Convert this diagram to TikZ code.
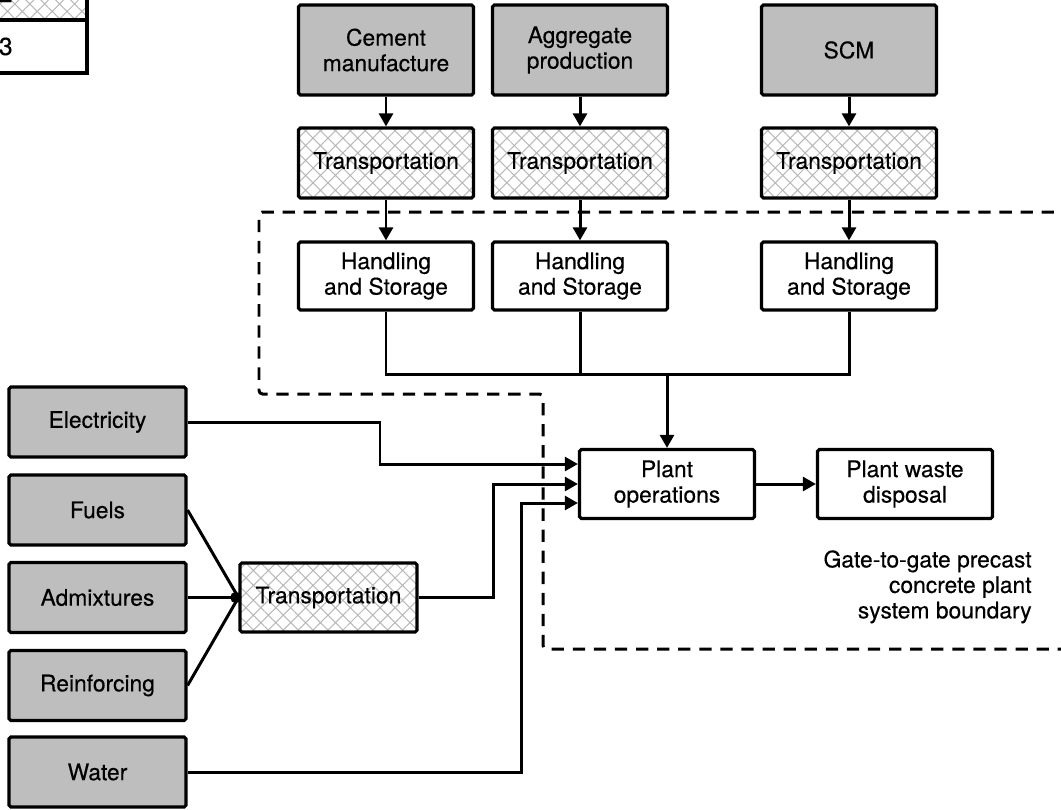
\documentclass[tikz,border=0pt]{standalone}
\usepackage{fontspec}
\setmainfont{TeX Gyre Heros}
\newfontfamily\diagfont{TeX Gyre Heros}[FakeBold=0.3]
\usetikzlibrary{arrows.meta,patterns.meta}
\definecolor{srcgray}{RGB}{190,190,190}
\definecolor{hatchgray}{RGB}{185,185,185}
\tikzset{
  box/.style={draw, line width=1.8pt, rounded corners=1pt, align=center,
    inner sep=2pt, font=\diagfont\fontsize{13}{14.5}\selectfont},
  source/.style={box, fill=srcgray, minimum width=3.5cm, minimum height=1.4cm},
  hatched/.style={pattern={Hatch[angle=45,distance=6pt,line width=0.6pt]},
    pattern color=hatchgray},
  trans/.style={box, hatched, minimum width=3.5cm, minimum height=1.4cm},
  plain/.style={box, fill=white, minimum width=3.5cm, minimum height=1.38cm},
  flow/.style={line width=1.7pt, -{Triangle[length=7.5pt,width=8pt]}},
  link/.style={line width=1.7pt},
  boundary/.style={line width=1.7pt, dash pattern=on 7pt off 5pt, rounded corners=2pt},
}
\begin{document}
\begin{tikzpicture}[x=0.02cm, y=-0.02cm]
  \useasboundingbox (0,0) rectangle (1061,809);

  % cut-off legend in the corner
  \draw[line width=1.8pt, hatched] (-120,-40) rectangle (87,20);
  \draw[line width=1.8pt] (-120,20) rectangle (87,73);
  \node[anchor=base east, font=\diagfont\fontsize{14}{15}\selectfont, inner sep=0pt] (legA2) at (13,2) {A2};
  \node[anchor=base east, font=\diagfont\fontsize{14}{15}\selectfont, inner sep=0pt] (legA3) at (13,55) {A3};

  % system boundary
  \draw[boundary] (1075,212) -- (259,212) -- (259,394) -- (543,394) -- (543,649) -- (1075,649);
  \node[anchor=north east, align=right, inner sep=0pt,
    font=\diagfont\fontsize{13}{14.5}\selectfont] (gate) at (1032,550)
    {Gate-to-gate precast\\concrete plant\\system boundary};

  % upstream materials
  \node[source, minimum height=1.8cm] (cement) at (386,50) {Cement\\manufacture};
  \node[source, minimum height=1.8cm] (aggr) at (580,50) {Aggregate\\production};
  \node[source, minimum height=1.8cm] (scm) at (849,50) {SCM};

  \node[trans] (tcem) at (386,163) {Transportation};
  \node[trans] (taggr) at (580,163) {Transportation};
  \node[trans] (tscm) at (849,163) {Transportation};

  \node[plain, minimum height=1.36cm] (hcem) at (386,276) {Handling\\and Storage};
  \node[plain, minimum height=1.36cm] (haggr) at (580,276) {Handling\\and Storage};
  \node[plain, minimum height=1.36cm] (hscm) at (849,276) {Handling\\and Storage};

  \draw[flow] (cement) -- (tcem);
  \draw[flow] (aggr) -- (taggr);
  \draw[flow] (scm) -- (tscm);
  \draw[flow] (tcem) -- (hcem);
  \draw[flow] (taggr) -- (haggr);
  \draw[flow] (tscm) -- (hscm);

  % plant
  \node[plain] (plant) at (667,484) {Plant\\operations};
  \node[plain] (waste) at (905,484) {Plant waste\\disposal};
  \coordinate (merge) at (667,374);
  \draw[link] (hcem) -- (386,374) -- (849,374) -- (hscm);
  \draw[link] (haggr) -- (580,374);
  \draw[flow] (merge) -- (plant);
  \draw[flow] (plant) -- (waste);

  % other inputs
  \node[source, minimum width=3.54cm] (elec) at (97.5,422) {Electricity};
  \node[source, minimum width=3.54cm] (fuels) at (97.5,510) {Fuels};
  \node[source, minimum width=3.54cm] (admix) at (97.5,597.5) {Admixtures};
  \node[source, minimum width=3.54cm] (reinf) at (97.5,685.5) {Reinforcing};
  \node[source, minimum width=3.54cm] (water) at (97.5,772) {Water};
  \node[trans, minimum width=3.54cm, minimum height=1.38cm] (tmix) at (328.5,597.5) {Transportation};

  \draw[link] (fuels.east) -- (tmix.west);
  \draw[link] (admix.east) -- (tmix.west);
  \draw[link] (reinf.east) -- (tmix.west);
  \fill ([xshift=-1.5pt]tmix.west) circle (3.2pt);

  \draw[flow] (elec.east) -- (380,422) |- ([yshift=0.4cm]plant.west);
  \draw[flow] (tmix.east) -- (493,597.5) |- (plant.west);
  \draw[flow] (water.east) -- (521,772) |- ([yshift=-0.38cm]plant.west);
\end{tikzpicture}
\end{document}
